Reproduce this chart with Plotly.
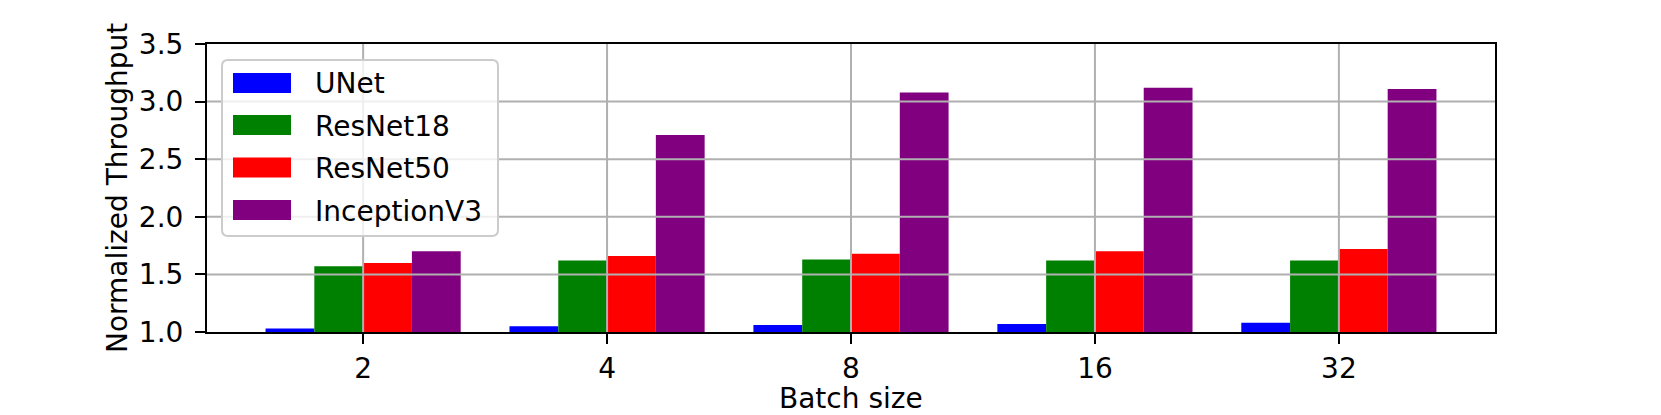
import plotly.graph_objects as go

batch_sizes = ["2", "4", "8", "16", "32"]
series_names = ["UNet", "ResNet18", "ResNet50", "InceptionV3"]
unet = [1.03, 1.05, 1.06, 1.07, 1.08]
resnet18 = [1.57, 1.62, 1.63, 1.62, 1.62]
resnet50 = [1.60, 1.66, 1.68, 1.70, 1.72]
inceptionv3 = [1.70, 2.71, 3.08, 3.12, 3.11]
colors = ["blue", "#008000", "red", "#800080"]
y_ticks = [1.0, 1.5, 2.0, 2.5, 3.0, 3.5]

# page is 1661x415; browser body has an 8px margin, so the figure is offset by 8px
OFF = 8
W, H = 1661 - OFF, 415 - OFF
L, R, T, B = 207, 1495, 44, 332  # plot area in page pixels
pw, ph = R - L, B - T
FONT = "DejaVu Sans"
FS = 28


def px(xp):
    return (xp - L) / pw


def py(yp):
    return (B - yp) / ph


xs = list(range(len(batch_sizes)))
fig = go.Figure()
for name, vals, col in zip(series_names, [unet, resnet18, resnet50, inceptionv3], colors):
    fig.add_trace(go.Bar(x=xs, y=vals, name=name, marker=dict(color=col, line=dict(width=0)),
                         showlegend=False))

shapes = []
# grid lines above bars (matplotlib draws grid over patches)
for xv in xs:
    shapes.append(dict(type="line", xref="x", yref="paper", x0=xv, x1=xv, y0=0, y1=1,
                       line=dict(color="#b0b0b0", width=2), layer="above"))
for yv in y_ticks[1:-1]:
    shapes.append(dict(type="line", xref="paper", yref="y", x0=0, x1=1, y0=yv, y1=yv,
                       line=dict(color="#b0b0b0", width=2), layer="above"))

# legend box (rounded)
bx0, bx1, by0, by1, r = 222, 498, 60, 236, 6
path = (f"M {px(bx0 + r)} {py(by0)} L {px(bx1 - r)} {py(by0)} "
        f"Q {px(bx1)} {py(by0)} {px(bx1)} {py(by0 + r)} "
        f"L {px(bx1)} {py(by1 - r)} Q {px(bx1)} {py(by1)} {px(bx1 - r)} {py(by1)} "
        f"L {px(bx0 + r)} {py(by1)} Q {px(bx0)} {py(by1)} {px(bx0)} {py(by1 - r)} "
        f"L {px(bx0)} {py(by0 + r)} Q {px(bx0)} {py(by0)} {px(bx0 + r)} {py(by0)} Z")
shapes.append(dict(type="path", xref="paper", yref="paper", path=path,
                   fillcolor="rgba(255,255,255,0.8)", line=dict(color="#cccccc", width=2),
                   layer="above"))

annotations = []
row_centers = [83, 125, 167.5, 210]
for name, col, yc in zip(series_names, colors, row_centers):
    shapes.append(dict(type="rect", xref="paper", yref="paper",
                       x0=px(233), x1=px(291), y0=py(yc - 10), y1=py(yc + 10),
                       fillcolor=col, line=dict(width=0), layer="above"))
    annotations.append(dict(text=name, xref="paper", yref="paper", x=px(313), y=py(yc + 1),
                            xanchor="left", yanchor="middle", showarrow=False,
                            font=dict(family=FONT, size=FS, color="black")))

annotations.append(dict(text="Normalized Throughput", xref="paper", yref="paper",
                        x=px(117), y=py((T + B) / 2), textangle=-90,
                        xanchor="center", yanchor="middle", showarrow=False,
                        font=dict(family=FONT, size=FS, color="black")))
annotations.append(dict(text="Batch size", xref="paper", yref="paper",
                        x=0.5, y=py(398), xanchor="center", yanchor="middle", showarrow=False,
                        font=dict(family=FONT, size=FS, color="black")))

fig.update_layout(
    width=W, height=H,
    margin=dict(l=L - OFF, r=1661 - R, t=T - OFF, b=415 - B, pad=0),
    paper_bgcolor="white", plot_bgcolor="white",
    barmode="group", bargap=0.2, bargroupgap=0,
    font=dict(family=FONT, size=FS, color="black"),
    shapes=shapes, annotations=annotations,
    showlegend=False,
)
fig.update_xaxes(range=[-0.64, 4.64], tickmode="array", tickvals=xs, ticktext=batch_sizes,
                 showgrid=False, zeroline=False, showline=True, linecolor="black", linewidth=2,
                 mirror=True, ticks="outside", ticklen=10, tickwidth=2, tickcolor="black",
                 tickfont=dict(family=FONT, size=FS, color="black"))
fig.update_yaxes(range=[1.0, 3.5], tickmode="array", tickvals=y_ticks,
                 ticktext=[f"{v:.1f}" for v in y_ticks],
                 showgrid=False, zeroline=False, showline=True, linecolor="black", linewidth=2,
                 mirror=True, ticks="outside", ticklen=10, tickwidth=2, tickcolor="black",
                 ticklabelstandoff=6,
                 tickfont=dict(family=FONT, size=FS, color="black"))

fig.write_html("out.html")
